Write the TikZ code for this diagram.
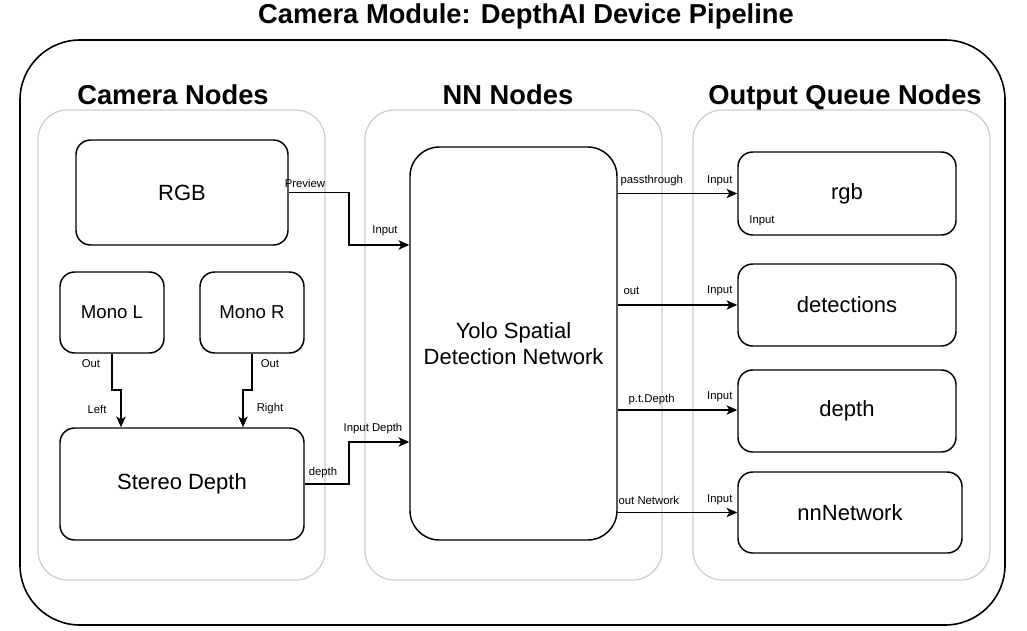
\documentclass[tikz,border=0pt]{standalone}
\usepackage{fontspec}
\setmainfont{Liberation Sans}
\usetikzlibrary{positioning, arrows.meta}

\tikzset{
	block/.style={draw, line width=1.1pt, rounded corners=11pt, font=\fontsize{16.5}{19.5}\selectfont, align=center},
	group/.style={draw=gray!40, line width=0.9pt, rounded corners=22pt},
	head/.style={font=\bfseries\fontsize{20.5}{24}\selectfont, anchor=base},
	lbl/.style={font=\fontsize{8.5}{10}\selectfont, inner sep=1pt},
	wire/.style={->, line width=1pt, >={Stealth[length=8pt, width=7pt, inset=2pt]}}
}

\begin{document}
\begin{tikzpicture}[x=0.75pt, y=-0.75pt]
	\useasboundingbox (0,0) rectangle (1027,631);

	% frame and groups
	\node[font=\bfseries\fontsize{20.5}{24}\selectfont] (title) at (526,16) {Camera Module: DepthAI Device Pipeline};
	\draw[line width=1.2pt, rounded corners=45pt] (20,40) rectangle (1005,625);

	\draw[group] (38,110) rectangle (325,580);
	\draw[group] (365,110) rectangle (662,580);
	\draw[group] (693,110) rectangle (990,580);
	\node[head] (hCam) at (173,105) {Camera Nodes};
	\node[head] (hNN) at (508,105) {NN Nodes};
	\node[head] (hOut) at (845,105) {Output Queue Nodes};

	% camera nodes
	\node[block, minimum width=159pt, minimum height=78.75pt] (rgb) at (182,192.5) {RGB};
	\node[block, minimum width=78pt, minimum height=60.75pt, font=\fontsize{14}{17}\selectfont] (monoL) at (112,312.5) {Mono L};
	\node[block, minimum width=78pt, minimum height=60.75pt, font=\fontsize{14}{17}\selectfont] (monoR) at (252,312.5) {Mono R};
	\node[block, minimum width=183pt, minimum height=84pt] (stereo) at (182,484) {Stereo Depth};

	% nn node
	\node[block, minimum width=155.25pt, minimum height=294.75pt, rounded corners=22pt] (yolo) at (513.5,343.5) {Yolo Spatial\\Detection Network};

	% output queues
	\node[block, minimum width=163.5pt, minimum height=62.25pt] (qRgb) at (847,193.5) {rgb};
	\node[block, minimum width=163.5pt, minimum height=61.5pt] (qDet) at (847,305) {detections};
	\node[block, minimum width=163.5pt, minimum height=61.5pt] (qDepth) at (847,411) {depth};
	\node[block, minimum width=168pt, minimum height=60.75pt] (qNet) at (850,512.5) {nnNetwork};

	% bends
	\coordinate (jRgb) at (349,245);
	\coordinate (jStereo) at (349,442);
	\coordinate (jL) at (121,390);
	\coordinate (jR) at (243,390);

	\draw[wire] (rgb.east) -| (jRgb) -- (jRgb -| yolo.west);
	\draw[wire] (stereo.east) -| (jStereo) -- (jStereo -| yolo.west);
	\draw[wire] (monoL.south) |- (jL) -- (jL |- stereo.north);
	\draw[wire] (monoR.south) |- (jR) -- (jR |- stereo.north);

	\draw[wire] (yolo.east |- qRgb) -- (qRgb.west);
	\draw[wire] (yolo.east |- qDet) -- (qDet.west);
	\draw[wire] (yolo.east |- 0,410) -- (qDepth.west |- 0,410);
	\draw[wire] (yolo.east |- qNet) -- (qNet.west);

	% port labels
	\node[lbl] (lPreview) at (305,183) {Preview};
	\node[lbl] (lIn) at (385,231) {Input};
	\node[lbl] (lOutL) at (91,364) {Out};
	\node[lbl] (lOutR) at (270,364) {Out};
	\node[lbl] (lLeft) at (97,409) {Left};
	\node[lbl] (lRight) at (270,409) {Right};
	\node[lbl] (lDepth) at (323,473) {depth};
	\node[lbl] (lInDepth) at (373,429) {Input Depth};

	\node[lbl, anchor=west] (lPass) at (619,181) {passthrough};
	\node[lbl, anchor=west] (lOut) at (622,291) {out};
	\node[lbl, anchor=west] (lPtd) at (627,400) {p.t.Depth};
	\node[lbl, anchor=west] (lOutNet) at (617,500) {out Network};
	\node[lbl, anchor=east] (lIn1) at (734,181) {Input};
	\node[lbl, anchor=east] (lIn2) at (734,291) {Input};
	\node[lbl, anchor=east] (lIn3) at (734,397) {Input};
	\node[lbl, anchor=east] (lIn4) at (734,500) {Input};
	\node[lbl] (lRgbIn) at (762,221) {Input};
\end{tikzpicture}
\end{document}
